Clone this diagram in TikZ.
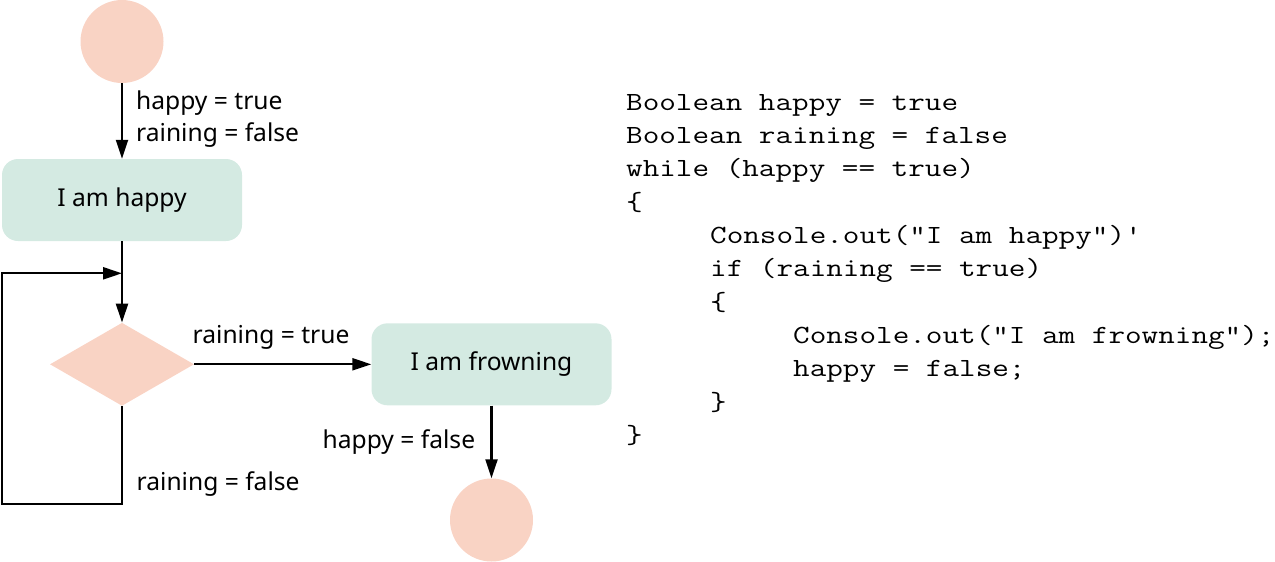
\documentclass[tikz,border=0pt]{standalone}
\usepackage{fontspec}
\setmainfont{Noto Sans}
\newfontfamily\codefont[FakeStretch=1.23]{Latin Modern Mono}
\usetikzlibrary{arrows.meta,shapes.geometric}
\definecolor{peach}{RGB}{249,211,196}
\definecolor{mint}{RGB}{212,234,226}
\tikzset{
  lbl/.style={font=\fontsize{24.6}{28}\selectfont, anchor=base west, inner sep=0pt},
  codeln/.style={font=\codefont\fontsize{26.2}{30}\selectfont, anchor=base west, inner sep=0pt},
  statebox/.style={fill=mint, rounded corners=16pt, minimum width=240pt, minimum height=82pt, inner sep=0pt, font=\fontsize{24.6}{28}\selectfont},
  terminal/.style={circle, fill=peach, minimum size=83pt, inner sep=0pt},
  decision/.style={diamond, fill=peach, minimum width=144pt, minimum height=83pt, inner sep=0pt},
  arr/.style={line width=2.2pt, -{Triangle[length=19pt,width=12pt]}},
  plain/.style={line width=2.2pt}
}
\begin{document}
\begin{tikzpicture}[x=1pt,y=-1pt]
\useasboundingbox (0,0) rectangle (1275,562);
% flowchart
\node[terminal] (start) at (122,41.5) {};
\node[statebox] (happy) at (122,200) {I am happy};
\node[decision] (dec) at (122,364.3) {};
\node[statebox] (frown) at (491.5,364.3) {I am frowning};
\node[terminal] (stop) at (491.5,520) {};
\coordinate (c1) at (122,504.3);
\coordinate (c2) at (2,504.3);
\coordinate (c3) at (2,273.3);
\coordinate (join) at (122,273.3);

\draw[arr] (start) -- (happy);
\draw[arr] (happy) -- (dec);
\draw[arr, line join=miter] (dec.south) -- (c1) -- (c2) -- (c3) -- (join);
\draw[arr] (dec.east) -- (frown.west);
\draw[arr] (frown) -- (stop);

\node[lbl] (l1) at (136,109) {happy = true};
\node[lbl] (l2) at (136,141.7) {raining = false};
\node[lbl] (l3) at (192.5,343.3) {raining = true};
\node[lbl] (l4) at (322.5,448.3) {happy = false};
\node[lbl] (l5) at (136.5,490) {raining = false};

% code
\node[codeln] (k1) at (626,110) {Boolean happy = true};
\node[codeln] (k2) at (626,143.3) {Boolean raining = false};
\node[codeln] (k3) at (626,176.7) {while (happy == true)};
\node[codeln] (k4) at (626,210) {\{};
\node[codeln] (k5) at (710,243.3) {Console.out("I am happy")'};
\node[codeln] (k6) at (710,276.7) {if (raining == true)};
\node[codeln] (k7) at (710,310) {\{};
\node[codeln] (k8) at (793,343.3) {Console.out("I am frowning");};
\node[codeln] (k9) at (793,376.7) {happy = false;};
\node[codeln] (k10) at (710,410) {\}};
\node[codeln] (k11) at (626,443.3) {\}};
\end{tikzpicture}
\end{document}
